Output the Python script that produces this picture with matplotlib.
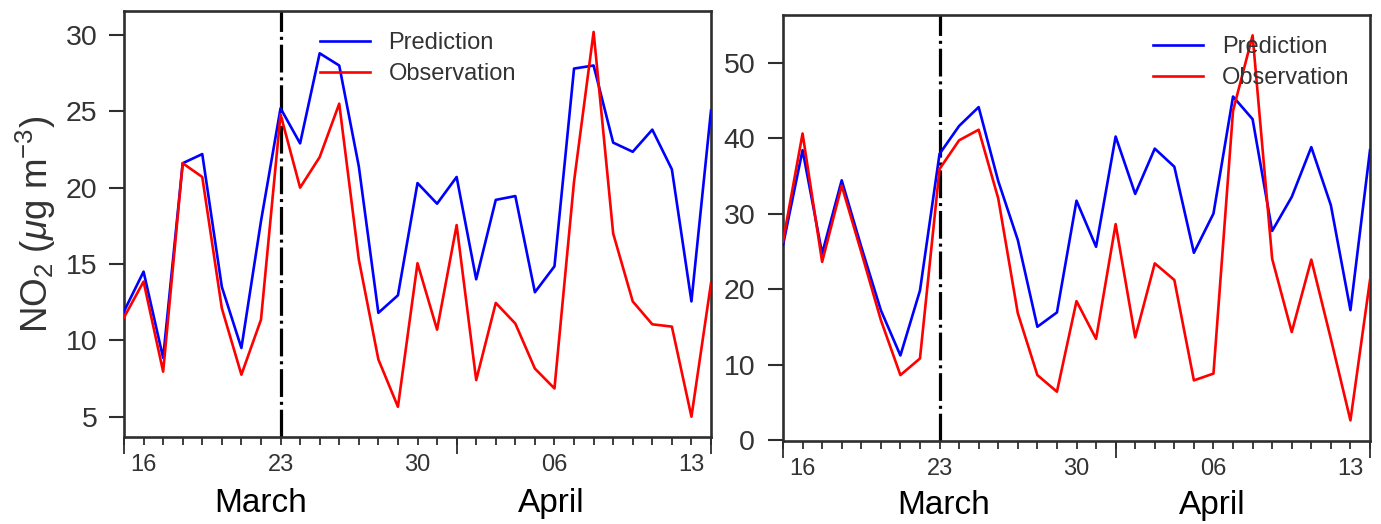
import matplotlib
matplotlib.use("Agg")
import matplotlib.dates as mdates
import matplotlib.pyplot as plt
import matplotlib.transforms as mtransforms
import pandas as pd

plt.rcParams["font.family"] = ["Liberation Sans", "DejaVu Sans"]
plt.rcParams["mathtext.fontset"] = "custom"
plt.rcParams["mathtext.rm"] = "Liberation Sans"
plt.rcParams["mathtext.it"] = "Liberation Sans:italic"
plt.rcParams["lines.scale_dashes"] = False

# ── Data (daily, 15 March – 14 April) ───────────────────────────────────────
DATES = pd.date_range("2020-03-15", "2020-04-14", freq="D")

LEFT_PRED = [11.9, 14.5, 8.85, 21.6, 22.2, 13.5, 9.5, 17.8, 25.2, 22.9, 28.8,
             28.0, 21.4, 11.8, 12.95, 20.3, 18.95, 20.7, 14.0, 19.2, 19.45,
             13.15, 14.85, 27.8, 28.0, 22.95, 22.35, 23.8, 21.2, 12.55, 25.05]
LEFT_OBS = [11.5, 13.85, 7.95, 21.6, 20.7, 12.1, 7.75, 11.35, 24.8, 20.0, 22.0,
            25.5, 15.3, 8.75, 5.65, 15.05, 10.7, 17.55, 7.4, 12.45, 11.1,
            8.15, 6.85, 20.4, 30.2, 17.0, 12.55, 11.05, 10.9, 5.0, 13.75]

RIGHT_PRED = [25.8, 38.4, 24.7, 34.4, 25.6, 17.2, 11.2, 19.8, 37.9, 41.6, 44.1,
              34.3, 26.5, 15.0, 16.9, 31.7, 25.6, 40.2, 32.6, 38.6, 36.2,
              24.8, 30.0, 45.5, 42.5, 27.7, 32.2, 38.8, 31.1, 17.2, 38.4]
RIGHT_OBS = [26.3, 40.6, 23.6, 33.7, 24.9, 15.9, 8.6, 10.8, 35.9, 39.7, 41.1,
             32.0, 16.8, 8.6, 6.4, 18.4, 13.4, 28.6, 13.6, 23.4, 21.2,
             7.9, 8.8, 43.6, 53.6, 24.0, 14.3, 23.9, 13.4, 2.6, 21.2]

TICK_DAYS = ["2020-03-16", "2020-03-23", "2020-03-30", "2020-04-06", "2020-04-13"]
BOUNDARY_DAYS = ["2020-03-15", "2020-04-01", "2020-04-14"]
SPLIT_DAY = "2020-03-23"
MONTHS = [("March", "2020-03-22"), ("April", "2020-04-05 20:00")]
MONTHS_RIGHT = [("March", "2020-03-23 05:00"), ("April", "2020-04-05 22:00")]

FRAME = "#2e2e2e"
TEXT = "#333333"


def num(d):
    return mdates.date2num(pd.to_datetime(d))


def style_panel(ax, ylim, yticks, ypad, months, month_y):
    x = mdates.date2num(DATES)
    ax.set_xlim(x[0], x[-1])
    ax.set_ylim(*ylim)
    ax.set_yticks(yticks)

    ticks = [num(d) for d in TICK_DAYS]
    ax.set_xticks(ticks, labels=[pd.to_datetime(d).strftime("%d") for d in TICK_DAYS])
    ax.set_xticks(x, minor=True)

    for s in ax.spines.values():
        s.set_color(FRAME)
        s.set_linewidth(1.9)

    ax.tick_params(axis="y", length=11, width=1.5, color=FRAME, pad=ypad,
                   labelsize=20.5, labelcolor=TEXT)
    ax.tick_params(axis="x", which="both", length=6, width=1.3, color=FRAME,
                   pad=6, labelsize=17, labelcolor=TEXT)

    # longer ticks at month boundaries
    sec = ax.secondary_xaxis("bottom")
    sec.set_xticks([num(d) for d in BOUNDARY_DAYS])
    sec.tick_params(length=12.5, width=1.3, color=FRAME, labelbottom=False)
    sec.spines["bottom"].set_visible(False)

    trans = mtransforms.blended_transform_factory(ax.transData, ax.transAxes)
    for name, d in months:
        ax.text(num(d), month_y, name, transform=trans, ha="center", va="baseline",
                fontsize=24, color="black")

    ax.axvline(num(SPLIT_DAY), color="black", lw=2.3, ls=(0, (20, 3.5, 2.2, 3.5)),
               zorder=1)


def plot_panel(ax, pred, obs, legend_x):
    x = mdates.date2num(DATES)
    ax.plot(x, pred, color="#0000ff", lw=1.9, label="Prediction", zorder=3)
    ax.plot(x, obs, color="#ff0000", lw=1.9, label="Observation", zorder=3)
    leg = ax.legend(loc="upper left", bbox_to_anchor=(legend_x, 0.95),
                    frameon=False, fontsize=17, handlelength=2.1,
                    handletextpad=0.8, labelspacing=0.38, borderpad=0,
                    borderaxespad=0)
    for t in leg.get_texts():
        t.set_color(TEXT)


def main():
    fig = plt.figure(figsize=(13.81, 5.24), dpi=100)
    ax1 = fig.add_axes([124 / 1381, 87 / 524, 587 / 1381, 426 / 524])
    ax2 = fig.add_axes([783 / 1381, 83 / 524, 587 / 1381, 426 / 524])

    plot_panel(ax1, LEFT_PRED, LEFT_OBS, 0.334)
    style_panel(ax1, (3.67, 31.57), [5, 10, 15, 20, 25, 30], 8, MONTHS, -0.176)
    ax1.set_ylabel(r"NO$_2$ ($\mu$g m$^{-3}$)", fontsize=26.5, color=TEXT, labelpad=6)

    plot_panel(ax2, RIGHT_PRED, RIGHT_OBS, 0.631)
    style_panel(ax2, (-0.13, 56.3), [0, 10, 20, 30, 40, 50], 9, MONTHS_RIGHT, -0.172)

    fig.savefig("out.png", dpi=100)
    plt.close(fig)


if __name__ == "__main__":
    main()
